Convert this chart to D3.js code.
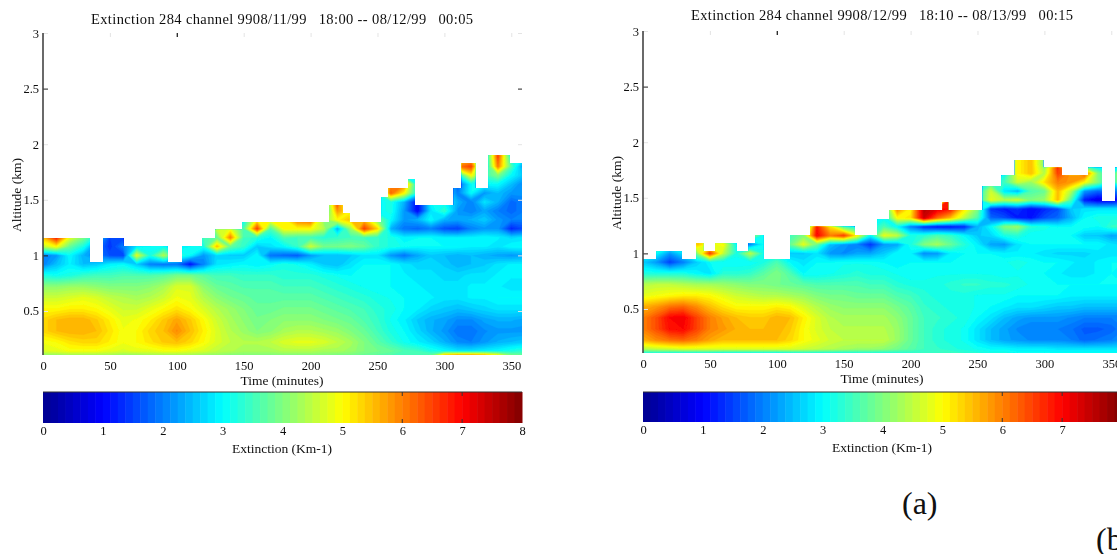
<!DOCTYPE html>
<html><head><meta charset="utf-8">
<script src="https://cdn.jsdelivr.net/npm/d3@7/dist/d3.min.js"></script>
<style>html,body{margin:0;padding:0;background:#fff;overflow:hidden}svg{display:block}</style>
</head><body><svg id="c" width="1117" height="554"></svg>
<script>
const times = d3.range(0, 370, 10);
const altitudes = [0.10,0.14,0.22,0.32,0.42,0.52,0.62,0.72,0.82,0.92,1.00,1.08,1.16,1.24,1.32,1.40,1.48,1.56,1.64,1.72,1.80,1.90];
const timeTicks = [0,50,100,150,200,250,300,350];
const altTicks = [0.5,1,1.5,2,2.5,3];
const barTicks = [0,1,2,3,4,5,6,7,8];

const titleA = "Extinction 284 channel 9908/11/99   18:00 -- 08/12/99   00:05";
const titleB = "Extinction 284 channel 9908/12/99   18:10 -- 08/13/99   00:15";

// cloud-top outline: start minute and top altitude of each step
const stepTimesA = [0,35,45,60,93,104,119,129,149,214,224,229,253,258,273,278,307,313,323,333,349,358];
const stepTopsA  = [1.157,0.94,1.157,1.085,0.94,1.085,1.157,1.23,1.30,1.453,1.38,1.30,1.525,1.606,1.687,1.453,1.606,1.83,1.606,1.90,1.83,1.83];
const stepTimesB = [0,10,29,40,45,54,70,79,84,90,110,125,158,175,184,224,228,254,268,278,299,313,333,343,353,358];
const stepTopsB  = [0.95,1.02,0.95,1.09,1.02,1.09,1.02,1.09,1.165,0.95,1.165,1.24,1.165,1.31,1.39,1.46,1.39,1.606,1.70,1.84,1.77,1.70,1.77,1.47,1.77,1.77];

// extinction (km-1), rows bottom to top, columns every 10 minutes
const extA = [
[4.1,4.1,4.2,4.2,4.2,4.2,4.1,4.1,4.2,4.2,4.2,4.2,4.1,4.1,4.0,4.0,4.0,4.0,4.0,4.0,4.0,4.0,3.9,3.9,3.8,3.7,3.6,3.6,3.6,3.8,5.5,5.8,5.8,5.6,5.0,4.0,3.8],
[4.7,4.8,4.9,4.9,4.9,4.8,4.7,4.8,4.8,4.9,4.9,4.8,4.7,4.5,4.4,4.3,4.3,4.3,4.4,4.4,4.4,4.3,4.3,4.2,4.0,3.9,3.8,3.6,3.5,3.2,3.0,2.8,2.8,2.9,3.0,3.2,3.4],
[4.9,5.0,5.2,5.3,5.3,5.1,4.9,5.0,5.2,5.4,5.5,5.3,5.0,4.7,4.5,4.4,4.4,4.5,4.7,4.8,4.8,4.7,4.5,4.3,4.0,3.7,3.4,3.1,2.9,2.7,2.4,2.1,2.0,2.2,2.4,2.5,2.6],
[5.3,5.5,5.6,5.6,5.5,5.2,4.9,5.0,5.3,5.5,5.9,5.5,5.1,4.7,4.4,4.2,4.0,4.1,4.3,4.4,4.4,4.3,4.2,4.0,3.8,3.5,3.2,3.0,2.7,2.4,2.2,1.9,1.9,2.1,2.2,2.2,2.2],
[5.3,5.5,5.6,5.6,5.4,5.1,4.8,4.9,5.1,5.4,5.7,5.4,5.0,4.6,4.3,4.1,3.9,4.0,4.1,4.1,4.1,4.0,3.9,3.8,3.6,3.4,3.1,2.9,2.6,2.4,2.3,2.1,2.1,2.3,2.4,2.4,2.3],
[5.0,5.0,5.1,5.1,5.0,4.8,4.6,4.6,4.8,5.0,5.2,5.0,4.7,4.4,4.2,4.0,3.8,3.8,3.9,3.9,3.9,3.8,3.7,3.6,3.5,3.3,3.2,3.0,2.9,2.7,2.6,2.5,2.6,2.7,2.8,2.8,2.8],
[4.6,4.6,4.7,4.8,4.7,4.5,4.4,4.3,4.4,4.6,4.9,4.8,4.4,4.1,3.9,3.8,3.7,3.7,3.7,3.7,3.7,3.6,3.5,3.4,3.3,3.2,3.1,3.0,2.9,2.9,2.8,2.8,2.9,2.9,3.0,3.0,3.0],
[4.1,4.1,4.2,4.2,4.1,4.0,4.0,4.0,4.1,4.3,4.7,4.7,4.1,3.8,3.7,3.6,3.6,3.6,3.5,3.5,3.5,3.4,3.3,3.2,3.1,3.0,3.0,2.9,2.9,2.8,2.8,2.8,2.9,2.9,2.9,2.8,2.8],
[3.2,3.1,3.2,3.4,3.5,3.5,3.6,3.6,3.6,3.7,3.9,3.9,3.7,3.5,3.5,3.4,3.4,3.4,3.3,3.3,3.3,3.2,3.1,3.0,3.0,3.0,3.0,2.9,2.8,2.8,2.7,2.7,2.8,2.8,2.9,2.9,2.9],
[2.0,2.5,2.9,2.5,2.6,2.9,3.0,2.6,2.0,1.9,1.9,1.1,2.0,2.8,2.9,3.0,2.9,3.0,3.2,3.1,2.9,2.6,2.5,2.8,3.0,3.0,3.0,2.8,2.7,2.7,2.6,2.4,2.5,2.6,2.8,2.9,2.9],
[2.0,2.2,3.0,2.4,2.0,1.6,1.5,4.8,3.2,4.4,3.4,3.0,2.2,2.7,2.6,2.6,3.0,1.9,1.8,1.7,2.2,2.5,2.5,2.6,2.8,2.8,2.2,1.9,2.3,2.6,2.5,2.4,2.5,2.4,2.3,2.2,2.3],
[4.5,5.0,3.8,3.2,2.0,1.4,2.0,2.8,3.0,3.0,2.8,3.0,3.2,5.5,3.8,3.4,2.6,2.8,3.0,3.4,4.6,3.9,3.9,4.0,3.8,3.4,3.2,3.1,3.0,3.0,3.0,3.0,2.9,2.9,2.8,3.0,3.0],
[5.5,6.8,4.8,4.0,3.0,1.5,1.5,3.0,3.0,3.0,3.0,3.0,3.5,3.8,6.0,3.5,3.3,3.0,3.6,3.5,3.5,3.3,3.4,3.5,3.5,3.4,3.2,2.9,3.0,3.0,2.9,2.9,2.9,3.0,2.9,2.7,2.8],
[5.5,6.8,4.8,4.0,3.0,3.0,3.0,3.0,3.0,3.0,3.0,3.0,3.5,4.6,4.8,3.6,6.5,3.6,5.0,5.0,5.0,4.4,2.4,4.2,6.5,5.3,2.4,1.9,1.8,2.0,1.6,1.5,2.0,2.2,2.2,1.3,1.6],
[3.0,3.0,3.0,3.0,3.0,3.0,3.0,3.0,3.0,3.0,3.0,3.0,3.0,3.0,3.0,3.0,5.0,5.0,5.0,6.0,6.2,4.0,5.0,5.5,5.5,4.0,3.0,2.2,2.4,3.0,2.4,2.3,2.4,2.6,2.2,2.0,2.0],
[3.0,3.0,3.0,3.0,3.0,3.0,3.0,3.0,3.0,3.0,3.0,3.0,3.0,3.0,3.0,3.0,3.0,3.0,3.0,3.0,3.0,3.0,5.8,5.0,3.0,3.0,3.2,2.2,1.0,2.8,3.4,2.2,2.0,2.3,2.0,1.8,2.0],
[3.0,3.0,3.0,3.0,3.0,3.0,3.0,3.0,3.0,3.0,3.0,3.0,3.0,3.0,3.0,3.0,3.0,3.0,3.0,3.0,3.0,3.0,6.5,3.0,3.0,3.0,3.2,2.4,1.0,3.0,3.0,2.4,2.0,2.8,2.4,1.8,2.0],
[3.0,3.0,3.0,3.0,3.0,3.0,3.0,3.0,3.0,3.0,3.0,3.0,3.0,3.0,3.0,3.0,3.0,3.0,3.0,3.0,3.0,3.0,3.0,3.0,3.0,3.0,6.2,5.0,3.0,3.0,3.0,2.0,3.0,2.2,2.5,2.2,2.2],
[3.0,3.0,3.0,3.0,3.0,3.0,3.0,3.0,3.0,3.0,3.0,3.0,3.0,3.0,3.0,3.0,3.0,3.0,3.0,3.0,3.0,3.0,3.0,3.0,3.0,3.0,6.0,6.0,2.8,3.0,3.0,1.7,3.0,3.0,3.0,2.5,2.0],
[3.0,3.0,3.0,3.0,3.0,3.0,3.0,3.0,3.0,3.0,3.0,3.0,3.0,3.0,3.0,3.0,3.0,3.0,3.0,3.0,3.0,3.0,3.0,3.0,3.0,3.0,3.0,3.0,3.0,3.0,3.0,3.0,5.0,3.5,4.0,3.0,2.5],
[3.0,3.0,3.0,3.0,3.0,3.0,3.0,3.0,3.0,3.0,3.0,3.0,3.0,3.0,3.0,3.0,3.0,3.0,3.0,3.0,3.0,3.0,3.0,3.0,3.0,3.0,3.0,3.0,3.0,3.0,3.0,6.0,6.5,2.5,6.0,3.6,2.0],
[3.0,3.0,3.0,3.0,3.0,3.0,3.0,3.0,3.0,3.0,3.0,3.0,3.0,3.0,3.0,3.0,3.0,3.0,3.0,3.0,3.0,5.0,3.0,3.0,3.0,3.0,3.0,3.0,3.0,3.0,3.0,5.0,5.0,2.5,6.5,3.0,3.0]
];
const extB = [
[3.0,3.0,2.9,2.9,2.9,2.9,2.8,2.8,2.8,2.8,2.8,2.9,3.0,3.0,3.0,3.0,3.1,3.1,3.1,3.2,3.3,3.4,3.5,3.5,3.4,3.3,3.2,3.2,3.1,3.1,3.1,3.1,3.1,3.1,3.1,3.1,3.1],
[4.4,4.5,4.6,4.7,4.7,4.7,4.7,4.7,4.7,4.7,4.7,4.7,4.6,4.5,4.4,4.3,4.2,4.2,4.1,3.9,3.7,3.5,3.4,3.3,3.2,3.1,3.0,3.0,2.9,2.9,2.9,2.8,2.8,2.8,2.8,2.8,2.8],
[5.6,5.9,6.1,6.2,6.0,5.7,5.5,5.5,5.5,5.5,5.5,5.3,5.0,4.8,4.6,4.5,4.5,4.5,4.5,4.2,3.8,3.5,3.3,3.2,3.1,2.8,2.5,2.3,2.2,2.1,2.1,2.1,2.0,1.8,1.9,2.0,2.2],
[6.0,6.4,6.9,7.0,6.5,6.0,5.8,5.6,5.5,5.5,5.6,5.4,5.0,4.7,4.5,4.4,4.4,4.4,4.4,4.2,3.8,3.5,3.3,3.2,3.1,2.8,2.5,2.3,2.1,2.0,2.0,2.0,1.9,1.7,1.7,1.8,2.0],
[6.0,6.4,7.0,7.1,6.5,6.0,5.7,5.5,5.4,5.4,5.6,5.5,5.1,4.7,4.4,4.3,4.3,4.3,4.3,4.1,3.8,3.5,3.4,3.3,3.2,3.0,2.8,2.5,2.3,2.2,2.2,2.2,2.1,2.0,2.0,2.0,2.0],
[5.6,5.8,6.1,6.2,5.9,5.5,5.2,5.0,5.0,5.0,5.1,5.0,4.7,4.4,4.2,4.1,4.1,4.1,4.1,3.9,3.7,3.4,3.3,3.2,3.2,3.1,3.0,2.9,2.8,2.8,2.7,2.6,2.6,2.5,2.5,2.5,2.5],
[4.8,4.9,5.0,5.1,5.1,5.0,4.8,4.6,4.5,4.4,4.4,4.3,4.2,4.0,3.9,3.9,3.8,3.8,3.8,3.6,3.5,3.3,3.2,3.2,3.2,3.1,3.1,3.1,3.0,3.0,3.0,3.0,2.9,2.9,2.9,2.9,2.9],
[4.4,4.5,4.5,4.4,4.3,4.3,4.2,4.1,4.0,4.0,3.9,3.8,3.7,3.6,3.6,3.6,3.6,3.5,3.5,3.3,3.2,3.2,3.2,3.3,3.4,3.4,3.3,3.3,3.2,3.1,3.1,3.0,3.0,3.0,3.0,3.0,3.0],
[3.2,3.2,3.2,3.2,3.0,2.8,3.3,3.3,3.4,3.7,4.0,3.6,3.0,3.0,3.1,3.2,3.3,3.2,3.2,3.1,3.0,3.0,3.1,3.1,3.1,3.1,3.1,3.0,3.1,3.0,3.0,2.9,2.8,2.8,2.9,3.0,2.9],
[2.6,2.2,1.5,2.0,2.6,3.0,3.0,3.0,3.0,3.2,3.6,3.0,2.8,3.0,3.0,3.1,3.1,3.1,3.0,2.9,3.0,3.0,3.0,3.0,3.0,3.1,3.1,3.1,3.2,3.1,3.0,3.0,2.9,2.8,2.9,3.0,3.0],
[3.0,3.0,2.2,2.8,4.0,6.5,4.5,3.2,4.5,3.2,3.0,2.6,2.6,2.8,2.2,2.1,2.3,2.3,2.6,3.0,2.9,2.1,2.2,2.9,3.0,3.0,3.0,2.9,2.9,2.9,2.8,2.7,2.7,2.7,2.8,2.8,2.8],
[3.0,4.0,3.5,3.0,5.5,4.8,5.0,3.0,2.0,3.0,3.0,3.8,4.8,3.8,2.5,2.2,2.0,1.4,2.2,2.3,3.2,4.0,4.3,3.8,3.3,2.9,2.3,2.2,2.8,3.0,3.0,3.0,3.0,3.0,3.0,2.8,2.7],
[3.0,3.0,3.0,3.0,5.6,5.0,3.0,3.0,4.5,3.0,3.0,3.5,4.0,7.0,6.0,6.5,5.0,3.0,4.8,4.5,3.2,3.3,3.6,3.4,3.0,2.6,2.7,3.2,3.3,3.0,3.0,3.0,3.0,2.6,2.6,2.3,2.4],
[3.0,3.0,3.0,3.0,3.0,3.0,3.0,3.0,3.0,3.0,3.0,3.0,3.0,6.8,5.2,3.5,3.0,3.0,3.6,3.0,2.0,1.3,1.1,1.1,1.3,2.4,3.0,4.0,4.2,3.3,3.2,3.0,3.0,3.1,3.0,3.4,3.5],
[3.0,3.0,3.0,3.0,3.0,3.0,3.0,3.0,3.0,3.0,3.0,3.0,3.0,3.0,3.0,3.0,3.0,3.0,3.0,5.0,5.2,7.4,6.2,5.5,4.5,3.6,1.8,1.6,1.2,1.1,1.6,1.8,2.4,3.0,3.2,3.2,3.2],
[3.0,3.0,3.0,3.0,3.0,3.0,3.0,3.0,3.0,3.0,3.0,3.0,3.0,3.0,3.0,3.0,3.0,3.0,3.0,6.0,5.0,7.6,7.2,6.8,5.2,4.0,1.4,1.2,1.4,1.0,1.3,1.6,2.6,2.8,2.8,2.8,2.8],
[3.0,3.0,3.0,3.0,3.0,3.0,3.0,3.0,3.0,3.0,3.0,3.0,3.0,3.0,3.0,3.0,3.0,3.0,3.0,3.0,3.0,3.0,3.0,6.8,3.0,3.0,4.8,4.4,4.6,4.0,4.2,5.5,3.6,1.2,0.8,0.9,1.2],
[3.0,3.0,3.0,3.0,3.0,3.0,3.0,3.0,3.0,3.0,3.0,3.0,3.0,3.0,3.0,3.0,3.0,3.0,3.0,3.0,3.0,3.0,3.0,3.0,3.0,3.0,4.6,2.8,2.4,3.6,3.8,5.5,4.4,2.2,1.8,2.0,2.0],
[3.0,3.0,3.0,3.0,3.0,3.0,3.0,3.0,3.0,3.0,3.0,3.0,3.0,3.0,3.0,3.0,3.0,3.0,3.0,3.0,3.0,3.0,3.0,3.0,3.0,3.0,3.4,3.5,4.6,4.2,5.2,6.0,5.8,5.0,4.0,3.0,5.0],
[3.0,3.0,3.0,3.0,3.0,3.0,3.0,3.0,3.0,3.0,3.0,3.0,3.0,3.0,3.0,3.0,3.0,3.0,3.0,3.0,3.0,3.0,3.0,3.0,3.0,3.0,3.0,3.0,5.0,5.5,4.4,6.5,5.8,6.4,4.0,3.0,5.5],
[3.0,3.0,3.0,3.0,3.0,3.0,3.0,3.0,3.0,3.0,3.0,3.0,3.0,3.0,3.0,3.0,3.0,3.0,3.0,3.0,3.0,3.0,3.0,3.0,3.0,3.0,3.0,3.0,5.0,5.5,4.0,6.8,3.0,3.0,2.5,3.0,3.0],
[3.0,3.0,3.0,3.0,3.0,3.0,3.0,3.0,3.0,3.0,3.0,3.0,3.0,3.0,3.0,3.0,3.0,3.0,3.0,3.0,3.0,3.0,3.0,3.0,3.0,3.0,3.0,3.0,5.0,5.5,4.0,3.0,3.0,3.0,3.0,3.0,3.0]
];

const svg = d3.select("#c");
const defs = svg.append("defs");
defs.append("filter").attr("id","soft").append("feGaussianBlur").attr("stdDeviation",0.55);
defs.append("filter").attr("id","softText").append("feGaussianBlur").attr("stdDeviation",0.35);

const jet = d3.scaleLinear().domain([0,1,3,5,7,8])
  .range(["#00008f","#0000ff","#00ffff","#ffff00","#ff0000","#800000"]).clamp(true);
const nLevels = 64;
const levels = d3.range(nLevels).map(i => i * 8 / nLevels);
const levelColor = v => jet(v + 4 / nLevels);
const font = "'Liberation Serif', serif";

function panel(cfg) {
  const x = d3.scaleLinear().domain([0,358]).range([cfg.x0, cfg.x0 + 479]);
  const y = d3.scaleLinear().domain([0.104,3]).range([cfg.yBottom, cfg.yBottom - 322]);
  const g = svg.append("g");

  const clipId = "clip" + cfg.id;
  const area = d3.area().curve(d3.curveStepAfter)
    .x(d => x(d[0])).y0(cfg.yBottom).y1(d => y(d[1]));
  defs.append("clipPath").attr("id",clipId).append("path")
    .attr("d", area(d3.zip(cfg.stepTimes, cfg.stepTops)));

  const colIdx = d3.scaleLinear().domain([0, times.length-1]).range([0, 360]).clamp(true);
  const rowIdx = d3.scaleLinear().domain(altitudes.map((_,i)=>i)).range(altitudes).clamp(true);
  const path = d3.geoPath(d3.geoTransform({
    point(px, py) { this.stream.point(x(colIdx(px-0.5)), y(rowIdx(py-0.5))); }
  }));
  cfg.values.forEach((r,i)=>{ if(r.length!==times.length) throw new Error(cfg.id+" row "+i+" len "+r.length); });
  const contours = d3.contours().size([times.length, altitudes.length]).smooth(true).thresholds(levels);
  const soft = g.append("g").attr("filter","url(#soft)");
  soft.append("g").attr("clip-path",`url(#${clipId})`)
    .selectAll("path").data(contours(cfg.values.flat())).join("path")
    .attr("d", path).attr("fill", d => levelColor(d.value)).attr("stroke", d => levelColor(d.value)).attr("stroke-width",0.3);

  const faint = "#e4e4e4", dark = "#222";
  const axB = g.append("g").attr("transform",`translate(0,${cfg.yBottom+cfg.tickDy})`)
    .call(d3.axisBottom(x).tickValues(timeTicks).tickSize(0).tickPadding(2).tickFormat(d3.format("d")));
  const axL = g.append("g").attr("transform",`translate(${cfg.x0-3},0)`)
    .call(d3.axisLeft(y).tickValues(altTicks).tickSize(0).tickPadding(1).tickFormat(d=>d));
  [axB,axL].forEach(a=>{a.select(".domain").remove(); a.selectAll("text").attr("font-family",font).attr("font-size",12.5).attr("fill","#111").attr("filter","url(#softText)");});
  g.append("g").attr("transform",`translate(0,${cfg.yBottom-322})`)
    .call(d3.axisBottom(x).tickValues(timeTicks).tickSize(4).tickFormat(""))
    .call(a=>{a.select(".domain").remove(); a.selectAll("line").attr("stroke",d=>d===100?dark:faint).attr("stroke-width",d=>d===100?1.3:1);});
  g.append("g").attr("transform",`translate(${cfg.x0},0)`)
    .call(d3.axisRight(y).tickValues(altTicks).tickSize(5).tickFormat(""))
    .call(a=>{a.select(".domain").remove(); a.selectAll("line").attr("stroke",d=>(d===2.5||d===1)?dark:faint);});
  g.append("g").attr("transform",`translate(${cfg.x0+479},0)`)
    .call(d3.axisLeft(y).tickValues(altTicks).tickSize(4).tickFormat(""))
    .call(a=>{a.select(".domain").remove(); a.selectAll("line").attr("stroke",d=>d===2.5?dark:faint);});
  g.append("line").attr("x1",cfg.x0).attr("x2",cfg.x0).attr("y1",cfg.yBottom-322).attr("y2",cfg.yBottom)
    .attr("stroke","#444").attr("stroke-width",1.6);

  const bx = d3.scaleLinear().domain([0,8]).range([cfg.x0, cfg.x0+479]);
  g.append("g").selectAll("rect").data(levels).join("rect")
    .attr("x", d=>bx(d)).attr("y",cfg.barY).attr("width",bx(8/nLevels)-bx(0)+0.5).attr("height",cfg.barH)
    .attr("fill", d=>levelColor(d));
  g.append("line").attr("x1",cfg.x0).attr("x2",cfg.x0+479).attr("y1",cfg.barY).attr("y2",cfg.barY).attr("stroke","#333").attr("stroke-width",1);
  const axC = g.append("g").attr("transform",`translate(0,${cfg.barY+cfg.barH})`)
    .call(d3.axisBottom(bx).tickValues(barTicks).tickSize(0).tickPadding(3).tickFormat(d3.format("d")));
  axC.select(".domain").remove();
  axC.selectAll("text").attr("font-family",font).attr("font-size",12.5).attr("fill","#111").attr("filter","url(#softText)");
  [6,7].forEach(v=>{
    g.append("line").attr("x1",bx(v)).attr("x2",bx(v)).attr("y1",cfg.barY).attr("y2",cfg.barY+4).attr("stroke","#333");
    g.append("line").attr("x1",bx(v)).attr("x2",bx(v)).attr("y1",cfg.barY+cfg.barH-4).attr("y2",cfg.barY+cfg.barH).attr("stroke","#333");
  });

  const txt = (tx,ty,s,size,anchor="middle",rot) => {
    const t = g.append("text").attr("x",tx).attr("y",ty).text(s).attr("font-family",font)
      .attr("font-size",size).attr("text-anchor",anchor).attr("fill","#111").attr("filter","url(#softText)")
      .style("white-space","pre");
    if (rot) t.attr("transform",`rotate(${rot} ${tx} ${ty})`);
    return t;
  };
  txt(cfg.x0+239, cfg.titleY, cfg.title, 14.5).attr("textLength",382).attr("lengthAdjust","spacing");
  txt(cfg.x0+239, cfg.yBottom+30, "Time (minutes)", 13.5);
  txt(cfg.x0+239, cfg.barY+cfg.barH+30, "Extinction (Km-1)", 13.5);
  txt(cfg.x0-22, cfg.yBottom-160, "Altitude (km)", 13.5, "middle", -90);
}

panel({id:"A",x0:43,yBottom:355,tickDy:4,barY:392,barH:31,titleY:24,title:titleA,
  stepTimes:stepTimesA,stepTops:stepTopsA,values:extA});
panel({id:"B",x0:643,yBottom:353,tickDy:4,barY:392,barH:30,titleY:20,title:titleB,
  stepTimes:stepTimesB,stepTops:stepTopsB,values:extB});

svg.append("text").attr("x",902).attr("y",514).text("(a)").attr("font-family",font).attr("font-size",32).attr("fill","#111");
svg.append("text").attr("x",1096).attr("y",550).text("(b)").attr("font-family",font).attr("font-size",32).attr("fill","#111");
</script></body></html>
